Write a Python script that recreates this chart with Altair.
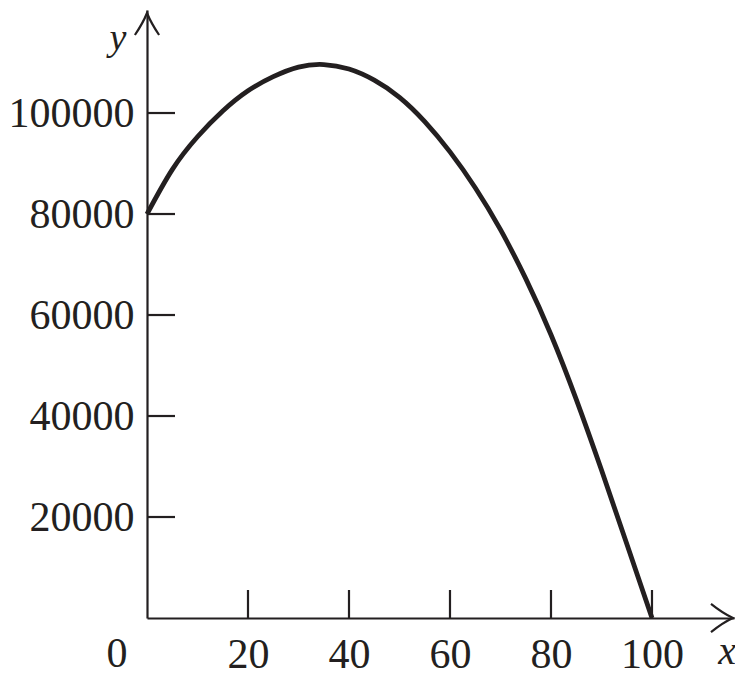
import altair as alt
import pandas as pd

# values
x_vals = [0, 5, 10, 15, 20, 25, 30, 35, 40, 45, 50, 55, 60, 65, 70, 75, 80, 85, 90, 95, 100]
y_vals = [80000, 88800, 95300, 100400, 104400, 107200, 109100, 109600, 108700, 106500,
          103100, 98300, 92300, 85200, 76900, 67200, 56100, 43300, 29300, 14700, 0]
x_ticks = [20, 40, 60, 80, 100]
y_ticks = [20000, 40000, 60000, 80000, 100000]
origin_label = ["0"]
x_name = ["x"]
y_name = ["y"]

INK = "#231f20"
FONT = "Liberation Serif"
W, H = 587, 608

xs = alt.Scale(domain=[0, 116.24], nice=False, zero=False)
ys = alt.Scale(domain=[0, 120400], nice=False, zero=False)

curve_df = pd.DataFrame({"x": x_vals, "y": y_vals})
xt_df = pd.DataFrame({"x": x_ticks})
yt_df = pd.DataFrame({"y": y_ticks})

curve = alt.Chart(curve_df).mark_line(color=INK, strokeWidth=4.8, interpolate="natural").encode(
    x=alt.X("x:Q", scale=xs, axis=alt.Axis(
        values=x_ticks, ticks=False, tickSize=0, domain=True, domainColor=INK,
        domainWidth=2.2, grid=False, title=None, labelFont=FONT, labelFontSize=42,
        labelColor=INK, labelPadding=16, format="d")),
    y=alt.Y("y:Q", scale=ys, axis=alt.Axis(
        values=y_ticks, ticks=False, tickSize=0, domain=True, domainColor=INK,
        domainWidth=2.2, grid=False, title=None, labelFont=FONT, labelFontSize=42,
        labelColor=INK, labelPadding=13, format="d")),
)

xtick = alt.Chart(xt_df).mark_rule(color=INK, strokeWidth=2.2).encode(
    x=alt.X("x:Q", scale=xs), y=alt.value(H), y2=alt.value(H - 28))
ytick = alt.Chart(yt_df).mark_rule(color=INK, strokeWidth=2.2).encode(
    y=alt.Y("y:Q", scale=ys), x=alt.value(0), x2=alt.value(28))

zero = alt.Chart(pd.DataFrame({"t": origin_label})).mark_text(
    font=FONT, fontSize=42, color=INK, baseline="top", align="center", dy=16
).encode(text="t:N", x=alt.value(-30), y=alt.value(H))

xlab = alt.Chart(pd.DataFrame({"t": x_name})).mark_text(
    font=FONT, fontSize=40, fontStyle="italic", color=INK, baseline="middle", align="center"
).encode(text="t:N", x=alt.value(580), y=alt.value(642))
ylab = alt.Chart(pd.DataFrame({"t": y_name})).mark_text(
    font=FONT, fontSize=38, fontStyle="italic", color=INK, baseline="middle", align="center"
).encode(text="t:N", x=alt.value(-29), y=alt.value(29))

arrow_x = alt.Chart(pd.DataFrame({"t": x_name})).mark_point(
    shape="M -1 -0.64 Q -0.45 -0.2 0 0 Q -0.45 0.2 -1 0.64", filled=False,
    stroke=INK, strokeWidth=2.2, size=1936, opacity=1
).encode(x=alt.value(586), y=alt.value(H))
arrow_y = alt.Chart(pd.DataFrame({"t": y_name})).mark_point(
    shape="M -0.55 1 Q -0.18 0.45 0 0 Q 0.18 0.45 0.55 1", filled=False,
    stroke=INK, strokeWidth=2.2, size=1936, opacity=1
).encode(x=alt.value(0), y=alt.value(3))

chart = alt.layer(curve, xtick, ytick, zero, xlab, ylab, arrow_x, arrow_y).properties(
    width=W, height=H,
    autosize=alt.AutoSizeParams(type="none"),
    padding={"left": 139, "top": 2, "right": 1, "bottom": 62},
).configure(background="white").configure_view(stroke="transparent", strokeWidth=0)

chart.save("out.html", embed_options={"renderer": "svg", "actions": False})
